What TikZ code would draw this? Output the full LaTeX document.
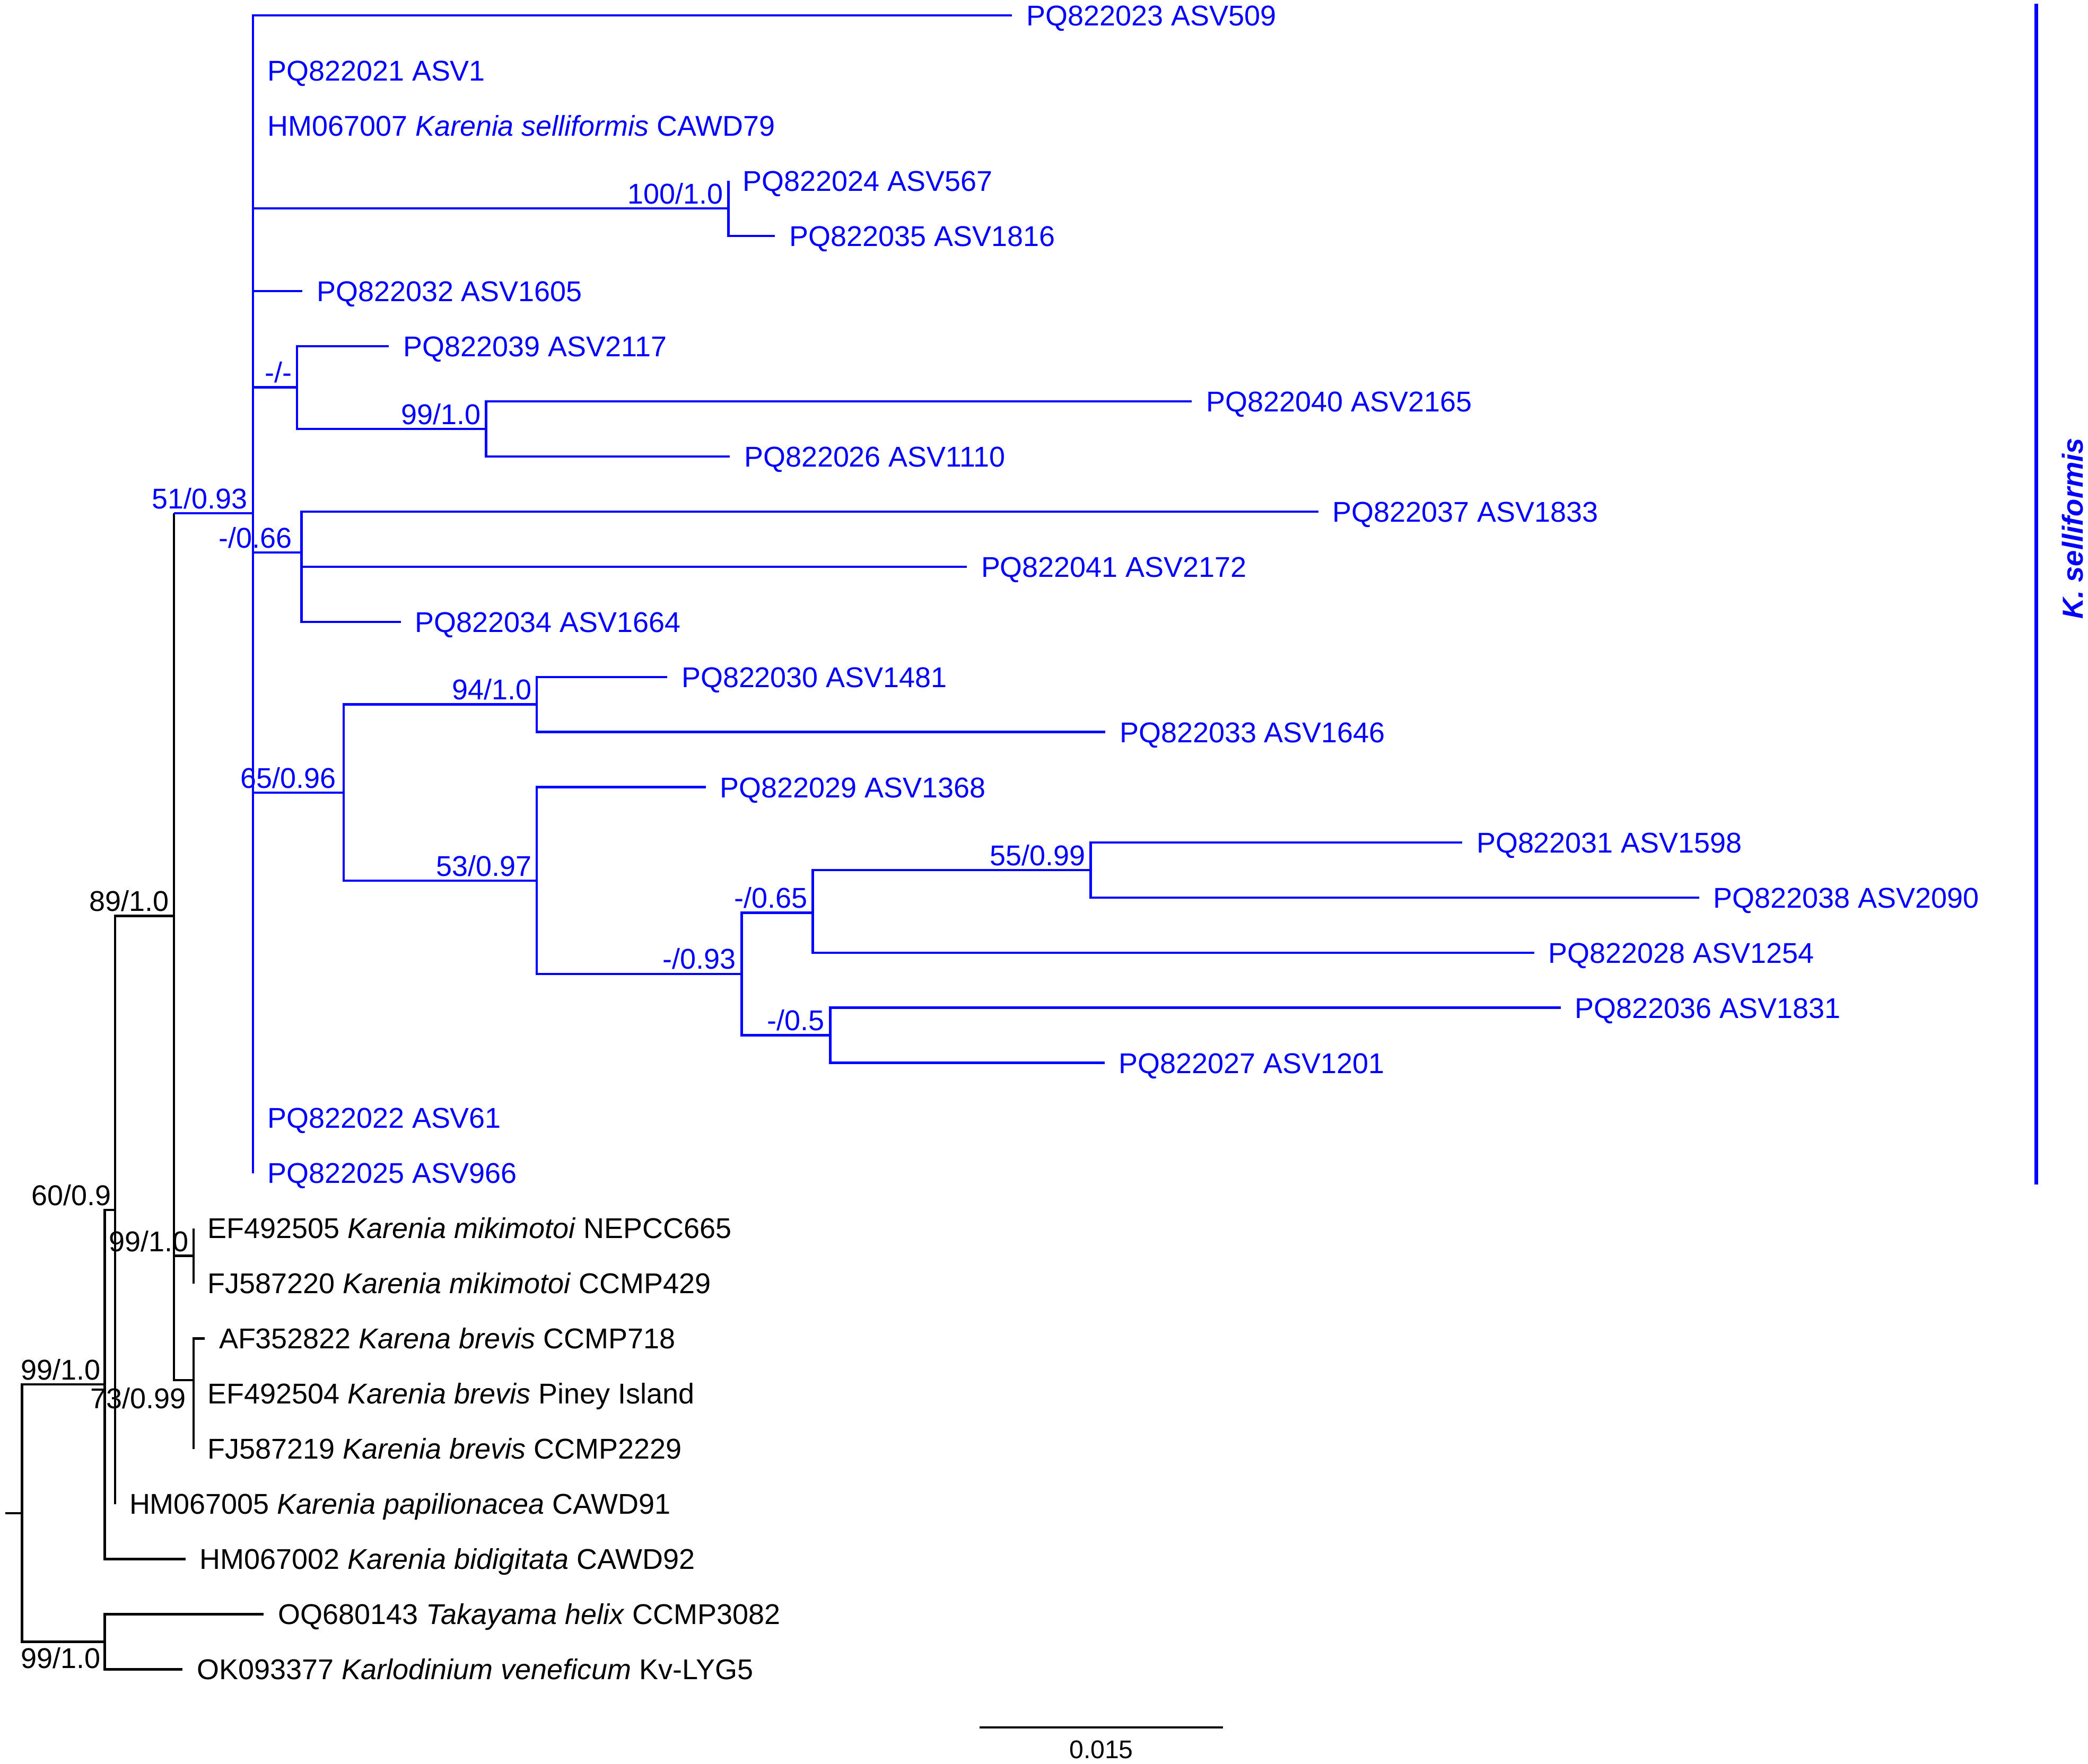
\documentclass[tikz,border=0pt]{standalone}
\usepackage{fontspec}
\setmainfont{Liberation Sans}
\definecolor{cblue}{RGB}{0,0,255}
\begin{document}
\begin{tikzpicture}[x=0.2511mm, y=-0.2511mm,
  brb/.style={draw=black, line width=1.3pt},
  brc/.style={draw=cblue, line width=1.3pt},
  lab/.style={anchor=base west, inner sep=0pt, xshift=2.64mm, yshift=-1.93mm, font=\fontsize{15.35}{18}\selectfont},
  sup/.style={anchor=base east, inner sep=0pt, font=\fontsize{15.35}{18}\selectfont},
  labb/.style={lab, text=black},
  labc/.style={lab, text=cblue},
  supb/.style={sup, text=black},
  supc/.style={sup, text=cblue}]
\useasboundingbox (0,0) rectangle (1568,1325);

% leaf ends
\coordinate (L0) at (760,11.6);
\coordinate (L1) at (190,53.0);
\coordinate (L2) at (190,94.4);
\coordinate (L3) at (547,135.8);
\coordinate (L4) at (582,177.2);
\coordinate (L5) at (227,218.7);
\coordinate (L6) at (292,260.1);
\coordinate (L7) at (895,301.5);
\coordinate (L8) at (548,342.9);
\coordinate (L9) at (990,384.3);
\coordinate (L10) at (726,425.7);
\coordinate (L11) at (301,467.1);
\coordinate (L12) at (501,508.5);
\coordinate (L13) at (830,549.9);
\coordinate (L14) at (530,591.3);
\coordinate (L15) at (1098,632.8);
\coordinate (L16) at (1276,674.2);
\coordinate (L17) at (1152,715.6);
\coordinate (L18) at (1172,757.0);
\coordinate (L19) at (829.5,798.4);
\coordinate (L20) at (190,839.8);
\coordinate (L21) at (190,881.2);
\coordinate (L22) at (145.3,922.6);
\coordinate (L23) at (145.3,964.0);
\coordinate (L24) at (153.7,1005.4);
\coordinate (L25) at (145.3,1046.9);
\coordinate (L26) at (145.3,1088.3);
\coordinate (L27) at (86.4,1129.7);
\coordinate (L28) at (139.2,1171.1);
\coordinate (L29) at (198.1,1212.5);
\coordinate (L30) at (137.2,1253.9);

% internal nodes
\coordinate (rs) at (3.8,1136.6);
\coordinate (root) at (16.5,1136.6);
\coordinate (n99a) at (78.7,1039.9);
\coordinate (n99c) at (78.7,1233.2);
\coordinate (n60) at (86.4,908.9);
\coordinate (n89) at (130.6,688);
\coordinate (nmik) at (145.3,943.3);
\coordinate (nbrev) at (145.3,1036.6);
\coordinate (n51) at (190,385.5);
\coordinate (n100) at (547,156.5);
\coordinate (nmm) at (223,291);
\coordinate (n99b) at (365,322.2);
\coordinate (n066) at (226.5,415);
\coordinate (n65) at (258,595.4);
\coordinate (n94) at (403,529.2);
\coordinate (n53) at (403,661.5);
\coordinate (n093) at (557,731.6);
\coordinate (n065) at (610.3,685.5);
\coordinate (n55) at (819,653.5);
\coordinate (n05) at (623.5,777.7);

% black branches
\draw[brb] (rs) -- (root);
\foreach \p/\c in {root/n99a, root/n99c, n99a/n60, n99a/L28, n60/L27,
  n89/nmik, n89/nbrev, nmik/L22, nmik/L23, nbrev/L24, nbrev/L25, nbrev/L26,
  n99c/L29, n99c/L30}
  \draw[brb] (\p) |- (\c);
\draw[brb] (n60) |- (n89);
\draw[brb] (n89) -- (n89 |- n51);
\draw[brc] (n89 |- n51) -- (n51);

% blue branches
\foreach \p/\c in {n51/L0, n51/L1, n51/L2, n51/n100, n51/L5, n51/nmm, n51/n066,
  n51/n65, n51/L20, n51/L21, n100/L3, n100/L4, nmm/L6, nmm/n99b, n99b/L7, n99b/L8,
  n066/L9, n066/L10, n066/L11, n65/n94, n65/n53, n94/L12, n94/L13, n53/L14, n53/n093,
  n093/n065, n093/n05, n065/n55, n065/L17, n55/L15, n55/L16, n05/L18, n05/L19}
  \draw[brc] (\p) |- (\c);

% leaf labels
\node[labc] (t0) at (L0) {PQ822023 ASV509};
\node[labc] (t1) at (L1) {PQ822021 ASV1};
\node[labc] (t2) at (L2) {HM067007 \textit{Karenia selliformis} CAWD79};
\node[labc] (t3) at (L3) {PQ822024 ASV567};
\node[labc] (t4) at (L4) {PQ822035 ASV1816};
\node[labc] (t5) at (L5) {PQ822032 ASV1605};
\node[labc] (t6) at (L6) {PQ822039 ASV2117};
\node[labc] (t7) at (L7) {PQ822040 ASV2165};
\node[labc] (t8) at (L8) {PQ822026 ASV1110};
\node[labc] (t9) at (L9) {PQ822037 ASV1833};
\node[labc] (t10) at (L10) {PQ822041 ASV2172};
\node[labc] (t11) at (L11) {PQ822034 ASV1664};
\node[labc] (t12) at (L12) {PQ822030 ASV1481};
\node[labc] (t13) at (L13) {PQ822033 ASV1646};
\node[labc] (t14) at (L14) {PQ822029 ASV1368};
\node[labc] (t15) at (L15) {PQ822031 ASV1598};
\node[labc] (t16) at (L16) {PQ822038 ASV2090};
\node[labc] (t17) at (L17) {PQ822028 ASV1254};
\node[labc] (t18) at (L18) {PQ822036 ASV1831};
\node[labc] (t19) at (L19) {PQ822027 ASV1201};
\node[labc] (t20) at (L20) {PQ822022 ASV61};
\node[labc] (t21) at (L21) {PQ822025 ASV966};
\node[labb] (t22) at (L22) {EF492505 \textit{Karenia mikimotoi} NEPCC665};
\node[labb] (t23) at (L23) {FJ587220 \textit{Karenia mikimotoi} CCMP429};
\node[labb] (t24) at (L24) {AF352822 \textit{Karena brevis} CCMP718};
\node[labb] (t25) at (L25) {EF492504 \textit{Karenia brevis} Piney Island};
\node[labb] (t26) at (L26) {FJ587219 \textit{Karenia brevis} CCMP2229};
\node[labb] (t27) at (L27) {HM067005 \textit{Karenia papilionacea} CAWD91};
\node[labb] (t28) at (L28) {HM067002 \textit{Karenia bidigitata} CAWD92};
\node[labb] (t29) at (L29) {OQ680143 \textit{Takayama helix} CCMP3082};
\node[labb] (t30) at (L30) {OK093377 \textit{Karlodinium veneficum} Kv-LYG5};

% support values
\node[supc] (s51) at (186,382) {51/0.93};
\node[supc] (s100) at (543.5,153) {100/1.0};
\node[supc] (smm) at (219.5,287.5) {-/-};
\node[supc] (s99b) at (361.5,318.7) {99/1.0};
\node[supc] (s066) at (219.5,411.5) {-/0.66};
\node[supc] (s65) at (252.5,592) {65/0.96};
\node[supc] (s94) at (399.5,525.7) {94/1.0};
\node[supc] (s53) at (399.5,658) {53/0.97};
\node[supc] (s093) at (553,728) {-/0.93};
\node[supc] (s065) at (606.5,682) {-/0.65};
\node[supc] (s55) at (815.5,650) {55/0.99};
\node[supc] (s05) at (619.5,774) {-/0.5};
\node[supb] (s89) at (127,684.5) {89/1.0};
\node[supb] (s60) at (83.8,905.3) {60/0.9};
\node[supb] (smik) at (142,940) {99/1.0};
\node[supb] (sbrev) at (140,1057.8) {73/0.99};
\node[supb] (s99a) at (75.7,1036.5) {99/1.0};
\node[supb] (s99c) at (75.7,1253.3) {99/1.0};

% clade bar
\coordinate (cb1) at (1529,2.9);
\coordinate (cb2) at (1529,889.7);
\draw[draw=cblue, line width=2pt] (cb1) -- (cb2);
\node[rotate=90, inner sep=0pt, text=cblue, font=\fontsize{15.5}{18}\selectfont\bfseries\itshape] (clade) at (1556.5,397) {K. selliformis};

% scale bar
\coordinate (sb1) at (735.7,1297.5);
\coordinate (sb2) at (918.5,1297.5);
\draw[brb] (sb1) -- (sb2);
\node[anchor=base, inner sep=0pt, font=\fontsize{13.7}{16}\selectfont] (sbl) at (827,1321) {0.015};
\end{tikzpicture}
\end{document}
